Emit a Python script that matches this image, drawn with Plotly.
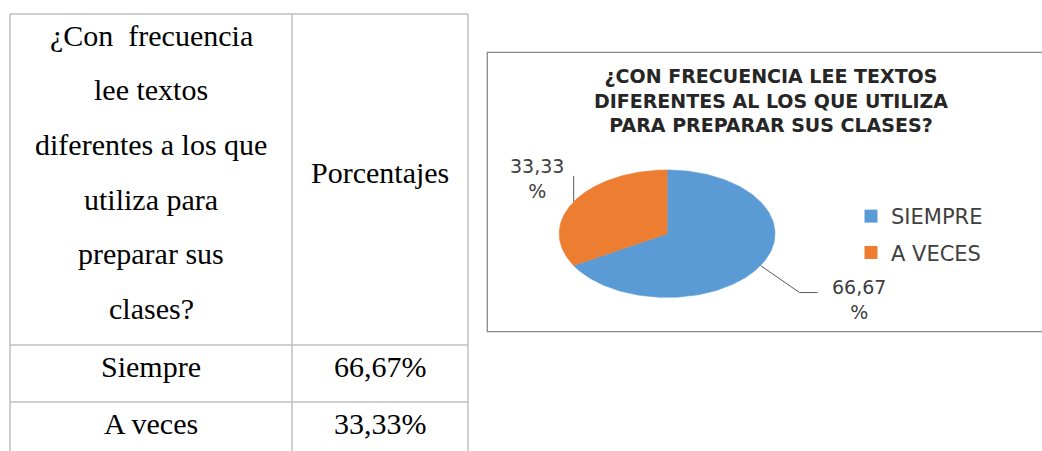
import numpy as np
import plotly.graph_objects as go

# ---------------- data ----------------
question_lines = ["¿Con\u00a0 frecuencia", "lee textos", "diferentes a los que",
                  "utiliza para", "preparar sus", "clases?"]
column_header = "Porcentajes"
table_categories = ["Siempre", "A veces"]
table_values = ["66,67%", "33,33%"]

chart_title_lines = ["¿CON FRECUENCIA LEE TEXTOS",
                     "DIFERENTES AL LOS QUE UTILIZA",
                     "PARA PREPARAR SUS CLASES?"]
pie_labels = ["SIEMPRE", "A VECES"]
pie_values = [66.67, 33.33]
pie_colors = ["#5B9BD5", "#ED7D31"]

# ---------------- layout helpers ----------------
W, H = 1042, 451


def px(x):
    return x / W


def py(y):
    return 1 - y / H


fig = go.Figure()

# pie geometry (pixels of the reference picture)
cx, cy, rx, ry = 667.1, 233.7, 107.9, 63.7
box_l, box_t, box_r, box_b = 487.3, 52.3, 1050.0, 331.7

# ---------------- pie (elliptical, drawn on its own axes) ----------------
total = sum(pie_values)
fracs = [v / total for v in pie_values]
start = 0.0
mids = []
for lab, f, col in zip(pie_labels, fracs, pie_colors):
    a0, a1 = start * 2 * np.pi, (start + f) * 2 * np.pi
    t = np.linspace(a0, a1, 160)
    xs = [0.0] + list(np.sin(t)) + [0.0]
    ys = [0.0] + list(np.cos(t)) + [0.0]
    fig.add_trace(go.Scatter(x=xs, y=ys, mode="lines", fill="toself",
                             fillcolor=col, line=dict(width=0.6, color=col),
                             showlegend=False, hoverinfo="skip"))
    am = (start + f / 2) * 2 * np.pi
    mids.append((float(np.sin(am)), float(np.cos(am))))
    start += f

# legend entries
for lab, col in zip(pie_labels, pie_colors):
    fig.add_trace(go.Scatter(x=[None], y=[None], mode="markers", name=lab,
                             legendgroup=lab,
                             marker=dict(symbol="square", size=13, color=col)))

# data labels with leader lines
label_texts = ["{:.2f}".format(v).replace(".", ",") + "<br>%" for v in pie_values]
label_shift = [(98, -34), (-37, 23)]          # pixel offsets of label blocks
leader_paths = ["M0,0L39,-27L57,-27", "M0,0L0,26"]

shapes = []
annotations = []
for (mx, my), txt, (sx, sy), pth in zip(mids, label_texts, label_shift, leader_paths):
    shapes.append(dict(type="path", xref="x", yref="y", xsizemode="pixel",
                       ysizemode="pixel", xanchor=mx, yanchor=my, path=pth,
                       line=dict(color="#595959", width=1)))
    annotations.append(dict(x=mx, y=my, xref="x", yref="y", xshift=sx, yshift=sy,
                            text=txt, showarrow=False, align="center",
                            font=dict(family="DejaVu Sans", size=19, color="#404040")))

# chart box
shapes.append(dict(type="rect", xref="paper", yref="paper",
                   x0=px(box_l), x1=px(box_r), y0=py(box_b), y1=py(box_t),
                   line=dict(color="#8a8a8a", width=1.3), layer="below"))

# ---------------- table ----------------
tcol = "#bfbfbf"
tw = 1.5
x_left, x_mid, x_right = 10, 292, 468
y_top, y_row1, y_row2, y_bot = 14, 345, 402, 470
for (x0, y0, x1, y1) in [(x_left, y_top, x_right, y_top),
                         (x_left, y_row1, x_right, y_row1),
                         (x_left, y_row2, x_right, y_row2),
                         (x_left, y_top, x_left, y_bot),
                         (x_mid, y_top, x_mid, y_bot),
                         (x_right, y_top, x_right, y_bot)]:
    shapes.append(dict(type="line", xref="paper", yref="paper",
                       x0=px(x0), x1=px(x1), y0=py(y0), y1=py(y1),
                       line=dict(color=tcol, width=tw)))

serif = dict(family="Liberation Serif, Times New Roman, serif", size=30, color="#000000")
c1 = (x_left + x_mid) / 2
c2 = (x_mid + x_right) / 2
for i, line in enumerate(question_lines):
    annotations.append(dict(x=px(c1), y=py(35.0 + i * 54.7), xref="paper", yref="paper",
                            text=line, showarrow=False, xanchor="center",
                            yanchor="middle", font=serif))
annotations.append(dict(x=px(c2), y=py(172.0), xref="paper", yref="paper",
                        text=column_header, showarrow=False, xanchor="center",
                        yanchor="middle", font=serif))
row_y = [366.5, 423]
for cat, val, yy in zip(table_categories, table_values, row_y):
    annotations.append(dict(x=px(c1), y=py(yy), xref="paper", yref="paper",
                            text=cat, showarrow=False, xanchor="center",
                            yanchor="middle", font=serif))
    annotations.append(dict(x=px(c2), y=py(yy), xref="paper", yref="paper",
                            text=val, showarrow=False, xanchor="center",
                            yanchor="middle", font=serif))

fig.update_layout(
    width=W, height=H,
    margin=dict(l=0, r=0, t=0, b=0),
    paper_bgcolor="white", plot_bgcolor="white",
    title=dict(text="<br>".join(chart_title_lines), x=px(771), y=py(83),
               xref="paper", yref="paper", xanchor="center", yanchor="middle",
               font=dict(family="DejaVu Sans", size=19, color="#262626", weight="bold")),
    # pie axes span the chart box; unit circle maps onto the reference ellipse
    xaxis=dict(domain=[px(box_l), 1.0],
               range=[(box_l - cx) / rx, (W - cx) / rx],
               visible=False, fixedrange=True),
    yaxis=dict(domain=[py(box_b), py(box_t)],
               range=[(cy - box_b) / ry, (cy - box_t) / ry],
               visible=False, fixedrange=True),
    showlegend=True,
    legend=dict(x=px(851), y=py(196), xanchor="left", yanchor="top",
                font=dict(family="DejaVu Sans", size=21, color="#404040"),
                tracegroupgap=6, bgcolor="rgba(0,0,0,0)", borderwidth=0),
    shapes=shapes,
    annotations=annotations,
)

fig.write_html("out.html",
               config={"displayModeBar": False},
               post_script="document.body.style.margin='0';"
                           "document.body.style.overflow='hidden';")
